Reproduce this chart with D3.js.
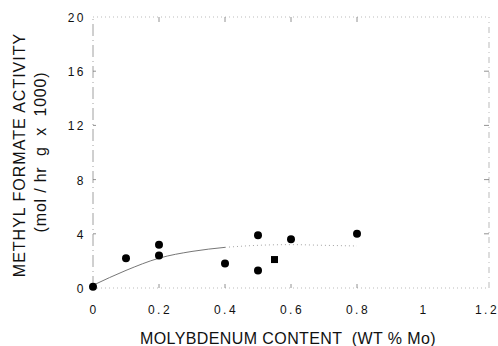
<!DOCTYPE html>
<html>
<head>
<meta charset="utf-8">
<script src="https://cdn.jsdelivr.net/npm/d3@7"></script>
<style>
  body { margin: 0; background: #fff; }
  svg { display: block; font-family: "Liberation Sans", Arial, sans-serif; }
</style>
</head>
<body>
<svg id="chart" width="498" height="346"></svg>
<script>
// Mo loading (wt %) and methyl formate activity
const moCircle = [0, 0.1, 0.2, 0.2, 0.4, 0.5, 0.5, 0.6, 0.8];
const activityCircle = [0.1, 2.2, 3.2, 2.4, 1.8, 3.9, 1.3, 3.6, 4.0];
const moSquare = [0.55];
const activitySquare = [2.1];

// hand-drawn trend curve
const fitMo = [0, 0.1, 0.2, 0.3, 0.4, 0.5, 0.6, 0.7, 0.8];
const fitActivity = [0.2, 1.3, 2.2, 2.7, 3.0, 3.15, 3.2, 3.15, 3.1];

const xTicks = [0, 0.2, 0.4, 0.6, 0.8, 1, 1.2];
const yTicks = [0, 4, 8, 12, 16, 20];

const margin = { top: 17, right: 9, bottom: 58, left: 93 };
const width = 498, height = 346;

const svg = d3.select("#chart");

const x = d3.scaleLinear().domain([0, 1.2]).range([margin.left, width - margin.right]);
const y = d3.scaleLinear().domain([0, 20]).range([height - margin.bottom, margin.top]);

// frame, faint and broken like the scan
const frame = svg.append("g").attr("fill", "none");
frame.append("line")
  .attr("x1", x(0)).attr("x2", x(0)).attr("y1", y(0)).attr("y2", y(20))
  .attr("stroke", "#888").attr("stroke-width", 0.8)
  .attr("stroke-dasharray", "12,4,1,4");
frame.append("line")
  .attr("x1", x(0)).attr("x2", x(1.2)).attr("y1", y(0)).attr("y2", y(0))
  .attr("stroke", "#aaa").attr("stroke-width", 0.8)
  .attr("stroke-dasharray", "1,3");
frame.append("line")
  .attr("x1", x(0)).attr("x2", x(1.2)).attr("y1", y(20)).attr("y2", y(20))
  .attr("stroke", "#aaa").attr("stroke-width", 0.8)
  .attr("stroke-dasharray", "1,3");
frame.append("line")
  .attr("x1", x(1.2)).attr("x2", x(1.2)).attr("y1", y(0)).attr("y2", y(20))
  .attr("stroke", "#aaa").attr("stroke-width", 0.8)
  .attr("stroke-dasharray", "6,4,1,4");

// inward ticks
const tickStroke = "#777";
svg.append("g").selectAll("line")
  .data(xTicks.filter((d) => d > 0 && d < 1)).join("line")
  .attr("x1", (d) => x(d)).attr("x2", (d) => x(d))
  .attr("y1", y(0)).attr("y2", y(0) - 4)
  .attr("stroke", tickStroke).attr("stroke-width", 0.8);
svg.append("g").selectAll("line")
  .data(xTicks.filter((d) => d > 0 && d < 1)).join("line")
  .attr("x1", (d) => x(d)).attr("x2", (d) => x(d))
  .attr("y1", y(20)).attr("y2", y(20) + 5)
  .attr("stroke", tickStroke).attr("stroke-width", 0.8);
svg.append("g").selectAll("line")
  .data(yTicks.filter((d) => d > 0 && d < 20)).join("line")
  .attr("x1", x(0)).attr("x2", x(0) + 3)
  .attr("y1", (d) => y(d)).attr("y2", (d) => y(d))
  .attr("stroke", tickStroke).attr("stroke-width", 0.8);
svg.append("g").selectAll("line")
  .data(yTicks.filter((d) => d > 0 && d < 20)).join("line")
  .attr("x1", x(1.2)).attr("x2", x(1.2) - 5)
  .attr("y1", (d) => y(d)).attr("y2", (d) => y(d))
  .attr("stroke", tickStroke).attr("stroke-width", 0.8);

// tick labels
svg.append("g").selectAll("text")
  .data(xTicks).join("text")
  .attr("x", (d) => Math.min(x(d) + 1, width - 11))
  .attr("y", 314)
  .attr("text-anchor", "middle")
  .attr("font-size", 12)
  .attr("letter-spacing", 2.5)
  .attr("fill", "#111")
  .text((d) => d3.format("")(d));

svg.append("g").selectAll("text")
  .data(yTicks).join("text")
  .attr("x", 86)
  .attr("y", (d) => y(d) + 5)
  .attr("text-anchor", "end")
  .attr("font-size", 12)
  .attr("letter-spacing", 2.5)
  .attr("fill", "#111")
  .text((d) => d);

// trend curve: solid part then dotted
const line = d3.line()
  .x((d) => x(d[0]))
  .y((d) => y(d[1]))
  .curve(d3.curveMonotoneX);
const fit = fitMo.map((m, i) => [m, fitActivity[i]]);
svg.append("path")
  .datum(fit.filter((d) => d[0] <= 0.4))
  .attr("d", line)
  .attr("fill", "none")
  .attr("stroke", "#666")
  .attr("stroke-width", 0.9);
svg.append("path")
  .datum(fit.filter((d) => d[0] >= 0.4))
  .attr("d", line)
  .attr("fill", "none")
  .attr("stroke", "#999")
  .attr("stroke-width", 0.9)
  .attr("stroke-dasharray", "1,3");

// data points
svg.append("g").selectAll("circle")
  .data(moCircle.map((m, i) => [m, activityCircle[i]])).join("circle")
  .attr("cx", (d) => x(d[0]))
  .attr("cy", (d) => y(d[1]))
  .attr("r", 4)
  .attr("fill", "#000");

svg.append("g").selectAll("rect")
  .data(moSquare.map((m, i) => [m, activitySquare[i]])).join("rect")
  .attr("x", (d) => x(d[0]) - 3.5)
  .attr("y", (d) => y(d[1]) - 3.5)
  .attr("width", 7)
  .attr("height", 7)
  .attr("fill", "#000");

// axis titles
svg.append("text")
  .attr("x", 140)
  .attr("y", 344)
  .attr("font-size", 16)
  .attr("letter-spacing", 0.4)
  .attr("fill", "#111")
  .style("white-space", "pre")
  .text("MOLYBDENUM CONTENT  (WT % Mo)");

svg.append("text")
  .attr("transform", "translate(25,155) rotate(-90)")
  .attr("text-anchor", "middle")
  .attr("font-size", 16)
  .attr("letter-spacing", 1)
  .attr("fill", "#111")
  .text("METHYL FORMATE ACTIVITY");

svg.append("text")
  .attr("transform", "translate(46,152) rotate(-90)")
  .attr("text-anchor", "middle")
  .attr("font-size", 16)
  .attr("letter-spacing", 0.8)
  .attr("fill", "#111")
  .style("white-space", "pre")
  .text("(mol / hr  g  x  1000)");
</script>
</body>
</html>
